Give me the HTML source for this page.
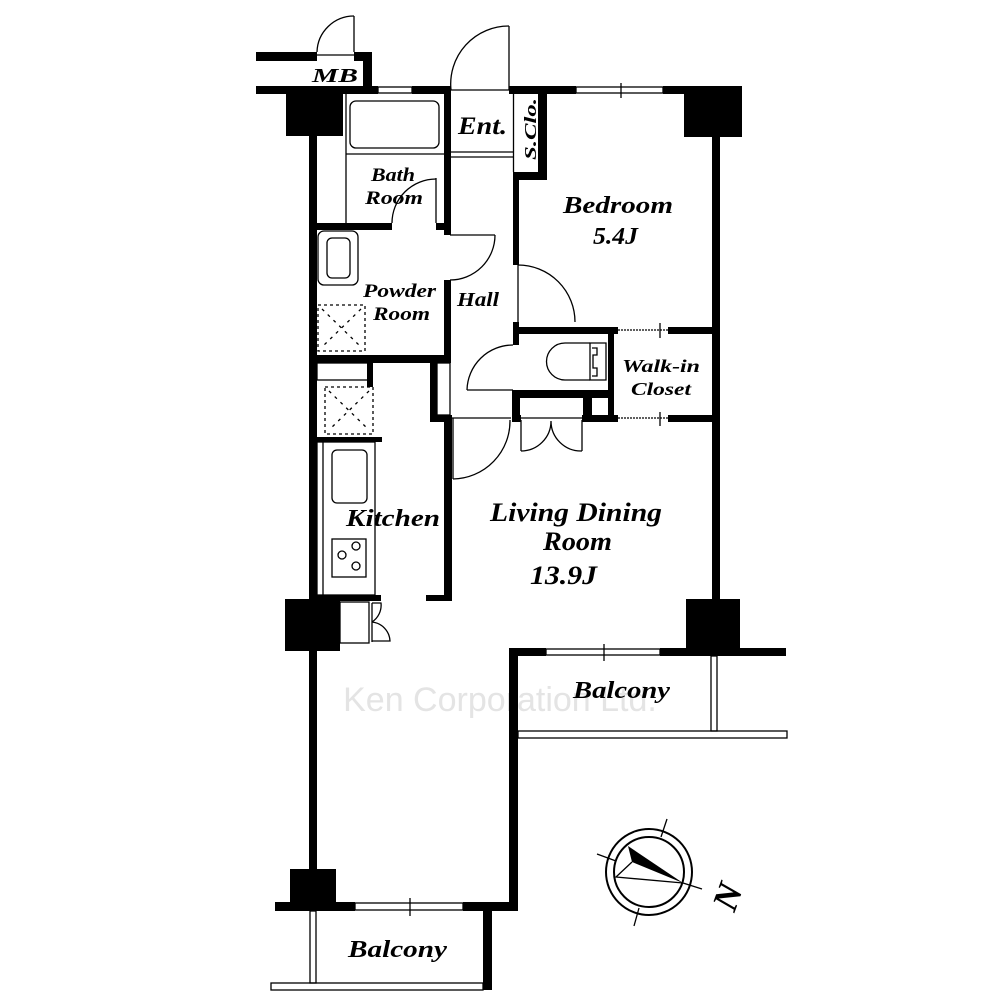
<!DOCTYPE html>
<html><head><meta charset="utf-8"><style>
html,body{margin:0;padding:0;background:#fff;}
svg{display:block}
text{font-family:"Liberation Serif",serif;font-weight:bold;font-style:italic;fill:#000}
</style></head><body>
<svg width="1000" height="1000" viewBox="0 0 1000 1000" xmlns="http://www.w3.org/2000/svg">
<rect width="1000" height="1000" fill="#fff"/>
<text x="500" y="711" text-anchor="middle" style="font-family:'Liberation Sans',sans-serif;font-weight:normal;font-style:normal;fill:#e4e4e4" font-size="34">Ken Corporation Ltd.</text>

<g fill="#000">
<rect x="256" y="52" width="61" height="9"/>
<rect x="354" y="52" width="18" height="9"/>
<rect x="363" y="52" width="9" height="36"/>
<rect x="256" y="86" width="122" height="8"/>
<rect x="412" y="86" width="39" height="8"/>
<rect x="509" y="86" width="67" height="8"/>
<rect x="663" y="86" width="79" height="8"/>
<rect x="286" y="86" width="57" height="50"/>
<rect x="684" y="86" width="58" height="51"/>
<rect x="309" y="136" width="8" height="740"/>
<rect x="712" y="137" width="8" height="465"/>
<!-- S.Clo walls -->
<rect x="538" y="94" width="9" height="86"/>
<rect x="513" y="172" width="34" height="8"/>
<rect x="444" y="94" width="7" height="141"/>
<rect x="444" y="280" width="7" height="83"/>
<rect x="317" y="223" width="75" height="7"/>
<rect x="436" y="223" width="15" height="7"/>
<rect x="309" y="355" width="142" height="8"/>
<rect x="367" y="363" width="6" height="24"/>
<rect x="430" y="363" width="7" height="59"/>
<rect x="430" y="415" width="22" height="7"/>
<rect x="317" y="437" width="65" height="5"/>
<rect x="444" y="415" width="8" height="186"/>
<rect x="426" y="595" width="26" height="6"/>
<rect x="309" y="595" width="72" height="6"/>
<rect x="513" y="180" width="6" height="85"/>
<rect x="513" y="322" width="6" height="23"/>
<rect x="512" y="390" width="8" height="32"/>
<rect x="513" y="327" width="105" height="7"/>
<rect x="668" y="327" width="52" height="7"/>
<rect x="512" y="390" width="98" height="8"/>
<rect x="583" y="397" width="9" height="18"/>
<rect x="608" y="334" width="6" height="88"/>
<rect x="512" y="415" width="9" height="7"/>
<rect x="582" y="415" width="36" height="7"/>
<rect x="668" y="415" width="52" height="7"/>
<rect x="285" y="599" width="55" height="52"/>
<rect x="686" y="599" width="54" height="49"/>
<rect x="509" y="648" width="37" height="8"/>
<rect x="660" y="648" width="126" height="8"/>
<rect x="509" y="648" width="9" height="263"/>
<rect x="290" y="869" width="46" height="34"/>
<rect x="275" y="902" width="80" height="9"/>
<rect x="463" y="902" width="55" height="9"/>
<rect x="483" y="911" width="9" height="79"/>
</g>

<g fill="none" stroke="#000" stroke-width="1.3">
<line x1="354" y1="16" x2="354" y2="52"/>
<path d="M317 52 A37 37 0 0 1 354 16"/>
<line x1="317" y1="55" x2="354" y2="55"/>
<line x1="509" y1="26" x2="509" y2="90"/>
<path d="M451 90 A58 58 0 0 1 509 26"/>
<line x1="451" y1="90" x2="509" y2="90"/>
<line x1="451" y1="152" x2="513" y2="152"/>
<line x1="451" y1="157" x2="513" y2="157"/>
<line x1="513.5" y1="94" x2="513.5" y2="172"/>
<rect x="378" y="87" width="34" height="6"/>
<rect x="576" y="87" width="87" height="6"/>
<line x1="621" y1="83" x2="621" y2="98"/>
<line x1="346" y1="94" x2="346" y2="223"/>
<line x1="346" y1="154" x2="444" y2="154"/>
<rect x="350" y="101" width="89" height="47" rx="6"/>
<line x1="436" y1="178" x2="436" y2="223"/>
<path d="M392 223 A44 44 0 0 1 436 179"/>
<rect x="318" y="231" width="40" height="54" rx="6"/>
<rect x="327" y="238" width="23" height="40" rx="5"/>
<rect x="318" y="305" width="47" height="46" stroke-dasharray="3 3"/>
<path d="M322 309 L361 347 M361 309 L322 347" stroke-dasharray="3 5"/>
<line x1="450" y1="235" x2="495" y2="235"/>
<path d="M495 235 A45 45 0 0 1 450 280"/>
<line x1="518" y1="265" x2="518" y2="322"/>
<path d="M518 265 A57 57 0 0 1 575 322"/>
<line x1="467" y1="390" x2="513" y2="390"/>
<path d="M467 390 A46 46 0 0 1 513 345"/>
<path d="M590 343 L565 343 A18 18 0 0 0 565 380 L590 380"/>
<path d="M590 343 L606 343 L606 380 L590 380 Z M592 348 L597 348 L597 355 L593 355 L593 368 L597 368 L597 376 L592 376"/>
<line x1="618" y1="330" x2="668" y2="330" stroke-dasharray="2 1"/>
<line x1="660" y1="323" x2="660" y2="338"/>
<line x1="618" y1="418" x2="668" y2="418" stroke-dasharray="2 1"/>
<line x1="660" y1="412" x2="660" y2="426"/>
<rect x="437" y="363" width="13" height="52"/>
<rect x="317" y="363" width="51" height="17"/>
<rect x="325" y="387" width="48" height="47" stroke-dasharray="3 3"/>
<path d="M329 391 L369 430 M369 391 L329 430" stroke-dasharray="3 5"/>
<rect x="317" y="442" width="58" height="153"/>
<line x1="323" y1="442" x2="323" y2="595"/>
<rect x="332" y="450" width="35" height="53" rx="5"/>
<rect x="332" y="539" width="34" height="38"/>
<circle cx="342" cy="555" r="4"/><circle cx="356" cy="546" r="4"/><circle cx="356" cy="566" r="4"/>
<line x1="452" y1="418" x2="511" y2="418"/>
<line x1="453" y1="418" x2="453" y2="479"/>
<path d="M453 479 A58 58 0 0 0 510 420"/>
<line x1="520" y1="418" x2="582" y2="418"/>
<line x1="521" y1="420" x2="521" y2="451"/>
<line x1="582" y1="420" x2="582" y2="451"/>
<path d="M521 451 A30 30 0 0 0 551 421 A30 30 0 0 0 582 451"/>
<rect x="340" y="602" width="29" height="41"/>
<line x1="372" y1="603" x2="372" y2="642"/>
<path d="M372 603 L381 603 A20 20 0 0 1 372 622 M372 622 A20 20 0 0 1 390 641 L372 641"/>
<rect x="546" y="649" width="114" height="6"/>
<line x1="604" y1="644" x2="604" y2="661"/>
<rect x="355" y="903" width="108" height="7"/>
<line x1="410" y1="898" x2="410" y2="916"/>
<rect x="711" y="656" width="6" height="75"/>
<rect x="518" y="731" width="269" height="7"/>
<rect x="310" y="911" width="6" height="72"/>
<rect x="271" y="983" width="212" height="7"/>
<circle cx="649" cy="872" r="43" stroke-width="2"/>
<circle cx="649" cy="872" r="35" stroke-width="2"/>
<line x1="597" y1="854" x2="616" y2="861"/>
<line x1="683" y1="883" x2="702" y2="889"/>
<line x1="667" y1="819" x2="661" y2="837"/>
<line x1="639" y1="908" x2="634" y2="926"/>
<path d="M632 862 L616 877 L683 883"/>
</g>
<path d="M628 846 L632 862 L683 883 Z" fill="#000"/>
<text transform="translate(731,898) rotate(-70)" font-size="36" text-anchor="middle" dominant-baseline="middle">N</text>

<text x="312" y="82" font-size="20" textLength="46" lengthAdjust="spacingAndGlyphs">MB</text>
<text x="458" y="134" font-size="25" textLength="49" lengthAdjust="spacingAndGlyphs">Ent.</text>
<text transform="translate(536,160) rotate(-90)" font-size="17" textLength="62" lengthAdjust="spacingAndGlyphs">S.Clo.</text>
<text x="371" y="181" font-size="19" textLength="44" lengthAdjust="spacingAndGlyphs">Bath</text>
<text x="365" y="204" font-size="19" textLength="58" lengthAdjust="spacingAndGlyphs">Room</text>
<text x="563" y="213" font-size="24" textLength="110" lengthAdjust="spacingAndGlyphs">Bedroom</text>
<text x="593" y="244" font-size="24" textLength="45" lengthAdjust="spacingAndGlyphs">5.4J</text>
<text x="363" y="297" font-size="19" textLength="73" lengthAdjust="spacingAndGlyphs">Powder</text>
<text x="373" y="320" font-size="19" textLength="57" lengthAdjust="spacingAndGlyphs">Room</text>
<text x="457" y="306" font-size="20" textLength="42" lengthAdjust="spacingAndGlyphs">Hall</text>
<text x="622" y="372" font-size="18" textLength="78" lengthAdjust="spacingAndGlyphs">Walk-in</text>
<text x="631" y="395" font-size="18" textLength="60" lengthAdjust="spacingAndGlyphs">Closet</text>
<text x="346" y="526" font-size="24" textLength="94" lengthAdjust="spacingAndGlyphs">Kitchen</text>
<text x="490" y="521" font-size="26" textLength="172" lengthAdjust="spacingAndGlyphs">Living Dining</text>
<text x="543" y="550" font-size="26" textLength="69" lengthAdjust="spacingAndGlyphs">Room</text>
<text x="530" y="584" font-size="26" textLength="67" lengthAdjust="spacingAndGlyphs">13.9J</text>
<text x="573" y="698" font-size="24" textLength="97" lengthAdjust="spacingAndGlyphs">Balcony</text>
<text x="348" y="957" font-size="24" textLength="99" lengthAdjust="spacingAndGlyphs">Balcony</text>
</svg>
</body></html>
